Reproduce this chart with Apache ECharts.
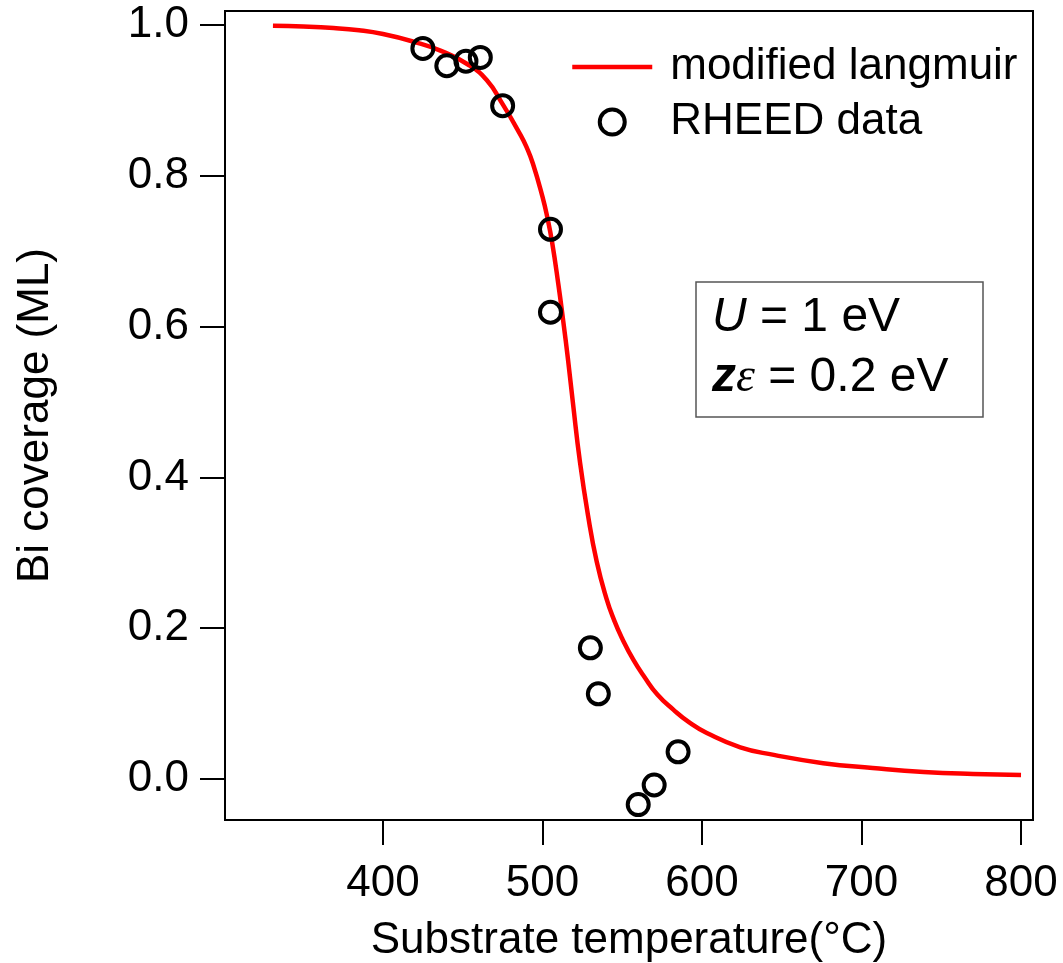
<!DOCTYPE html>
<html>
<head>
<meta charset="utf-8">
<script src="https://cdn.jsdelivr.net/npm/echarts@6/dist/echarts.min.js"></script>
<style>html,body{margin:0;padding:0;background:#fff}#c{width:1063px;height:963px}</style>
</head>
<body>
<div id="c"></div>
<script>
// Fitted curve (modified langmuir)
var fitTemp = [331, 350, 369, 385, 400, 419, 436, 453, 465, 475, 486, 490, 494, 500, 503, 506, 510, 513, 516, 519, 523.5, 528.5, 534, 540, 545, 550, 557, 564, 572, 582, 592, 603, 624, 645, 676, 707, 739, 770, 800];
var fitCoverage = [0.999, 0.998, 0.996, 0.993, 0.988, 0.978, 0.966, 0.948, 0.927, 0.895, 0.855, 0.838, 0.816, 0.772, 0.745, 0.712, 0.655, 0.607, 0.556, 0.500, 0.420, 0.350, 0.288, 0.240, 0.210, 0.186, 0.158, 0.135, 0.112, 0.092, 0.075, 0.061, 0.042, 0.032, 0.021, 0.0146, 0.0093, 0.0066, 0.0053];
// RHEED data points
var rheedTemp = [425, 440, 452, 461, 475, 505, 505, 530, 535, 560, 570, 585];
var rheedCoverage = [0.969, 0.946, 0.952, 0.957, 0.893, 0.729, 0.619, 0.174, 0.113, -0.034, -0.008, 0.036];
// Ticks
var xTicks = [400, 500, 600, 700, 800];
var yTicks = [0.0, 0.2, 0.4, 0.6, 0.8, 1.0];
var seriesNames = ['modified langmuir', 'RHEED data'];
var xName = 'Substrate temperature(°C)';
var yName = 'Bi coverage (ML)';

var FONT = "'Liberation Sans', Arial, sans-serif";
var chart = echarts.init(document.getElementById('c'), null, {renderer: 'canvas'});

function zip(a, b) { return a.map(function (v, i) { return [v, b[i]]; }); }

chart.setOption({
  animation: false,
  backgroundColor: '#fff',
  grid: {left: 225, top: 11, right: 30, bottom: 143, show: true, borderColor: '#000', borderWidth: 2,
    containLabel: false, outerBoundsMode: 'none'},
  xAxis: {
    type: 'value', min: 300.94, max: 807.5,
    name: xName, nameLocation: 'middle', nameGap: 99,
    nameTextStyle: {fontFamily: FONT, fontSize: 44, color: '#000'},
    axisLine: {show: true, onZero: false, lineStyle: {color: '#000', width: 2}},
    axisTick: {show: true, inside: false, length: 25, lineStyle: {color: '#000', width: 2}, customValues: xTicks},
    axisLabel: {fontFamily: FONT, fontSize: 44, color: '#000', margin: 42, customValues: xTicks},
    splitLine: {show: false}
  },
  yAxis: {
    type: 'value', min: -0.0544, max: 1.0186,
    name: yName, nameLocation: 'middle', nameGap: 167,
    nameTextStyle: {fontFamily: FONT, fontSize: 44, color: '#000'},
    axisLine: {show: true, onZero: false, lineStyle: {color: '#000', width: 2}},
    axisTick: {show: true, inside: false, length: 25, lineStyle: {color: '#000', width: 2}, customValues: yTicks},
    axisLabel: {fontFamily: FONT, fontSize: 44, color: '#000', margin: 36, customValues: yTicks,
      formatter: function (v) { return v.toFixed(1); }},
    splitLine: {show: false}
  },
  legend: {
    left: 565, top: 37, orient: 'vertical', itemWidth: 80, itemHeight: 25, itemGap: 5,
    textStyle: {fontFamily: FONT, fontSize: 44, color: '#000', padding: [0, 0, 0, 13], lineHeight: 50},
    data: [
      {name: seriesNames[0], itemStyle: {opacity: 0}, lineStyle: {color: '#ff0000', width: 4.5}},
      {name: seriesNames[1], icon: 'circle', itemStyle: {color: 'rgba(0,0,0,0)', borderColor: '#000', borderWidth: 4}}
    ]
  },
  series: [
    {
      name: seriesNames[0], type: 'line', data: zip(fitTemp, fitCoverage),
      smooth: 0.5, showSymbol: false, symbol: 'none',
      lineStyle: {color: '#ff0000', width: 4.5}, itemStyle: {color: '#ff0000'}, z: 2
    },
    {
      name: seriesNames[1], type: 'scatter', data: zip(rheedTemp, rheedCoverage),
      symbol: 'circle', symbolSize: 21,
      itemStyle: {color: 'rgba(0,0,0,0)', borderColor: '#000', borderWidth: 4, opacity: 1}, z: 3
    }
  ],
  graphic: [
    {type: 'rect', shape: {x: 696, y: 282, width: 287, height: 135}, style: {fill: 'none', stroke: '#555', lineWidth: 1.5}, z: 10},
    {type: 'text', x: 712, y: 318, style: {
      text: '{i|U} = 1 eV', verticalAlign: 'middle', fill: '#000',
      font: '48px ' + FONT,
      rich: {i: {fontStyle: 'italic', fontFamily: FONT, fontSize: 48, fill: '#000'}}
    }, z: 10},
    {type: 'text', x: 712, y: 378, style: {
      text: '{z|z}{e|ε} = 0.2 eV', verticalAlign: 'middle', fill: '#000',
      font: '48px ' + FONT,
      rich: {
        z: {fontStyle: 'italic', fontWeight: 'bold', fontFamily: FONT, fontSize: 48, fill: '#000'},
        e: {fontStyle: 'italic', fontFamily: "'Liberation Serif', 'DejaVu Serif', serif", fontSize: 48, fill: '#000'}
      }
    }, z: 10}
  ]
});
</script>
</body>
</html>
